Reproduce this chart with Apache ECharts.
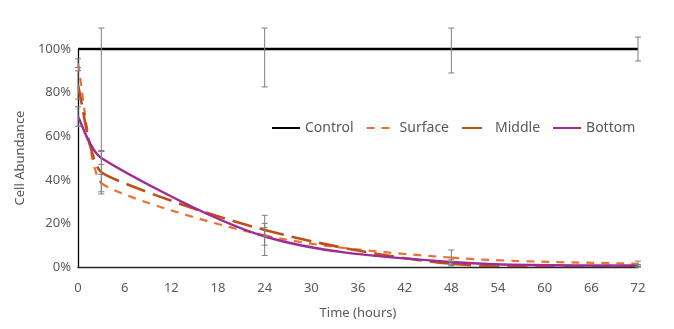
<!DOCTYPE html>
<html>
<head>
<meta charset="utf-8">
<script src="https://cdn.jsdelivr.net/npm/echarts@6/dist/echarts.min.js"></script>
<style>
  html, body { margin: 0; padding: 0; background: #fff; }
  #chart { width: 674px; height: 329px; }
</style>
</head>
<body>
<div id="chart"></div>
<script>
// Sampling times (hours)
const times = [0, 3, 24, 48, 72];
const xTicks = [0, 6, 12, 18, 24, 30, 36, 42, 48, 54, 60, 66, 72];

// Cell abundance (%) per depth
const control = [100, 100, 100, 100, 100];
const surface = [93.5, 38.5, 14.5, 4.3, 1.5];
const middle  = [83.5, 43.5, 17.0, 1.5, 0.5];
const bottom  = [69.0, 50.0, 14.0, 2.3, 0.6];

// Error bar extents (% above / below each mean)
const controlErrUp = [0, 9.6, 9.6, 9.6, 5.5];
const controlErrDn = [0, 47, 17.4, 11, 5.5];
const surfaceErrUp = [2, 4, 9.2, 3.5, 1.2];
const surfaceErrDn = [2, 4, 9.2, 3.5, 1.2];
const middleErrUp  = [6.5, 10, 3, 1, 0.5];
const middleErrDn  = [6.5, 10, 3, 1, 0.5];
const bottomErrUp  = [4.5, 3, 4, 1, 0.5];
const bottomErrDn  = [4.5, 3, 4, 1, 0.5];

const names = ['Control', 'Surface', 'Middle', 'Bottom'];
const colors = ['#000000', '#E97132', '#C04F15', '#A02B93'];
const widths = [2.4, 2.2, 2.6, 2.4];
const dashes = [null, [8, 7], [20, 8], null];
const values = [control, surface, middle, bottom];

function errRows(ys, up, dn) {
  return times.map((t, i) => [t, ys[i] - dn[i], ys[i] + up[i]]);
}

const errData = []
  .concat(errRows(control, controlErrUp, controlErrDn))
  .concat(errRows(surface, surfaceErrUp, surfaceErrDn))
  .concat(errRows(middle, middleErrUp, middleErrDn))
  .concat(errRows(bottom, bottomErrUp, bottomErrDn))
  .filter(r => r[2] - r[1] > 0);

// Spreadsheet-style smoothed curve: cubic Bezier segments whose handles follow
// the neighbour chord (1/6 of it), limited so they never pass a neighbouring point in x.
function smoothSegments(pts) {
  const n = pts.length;
  const handles = pts.map((p, i) => {
    const prev = pts[Math.max(0, i - 1)];
    const next = pts[Math.min(n - 1, i + 1)];
    let hx = (next[0] - prev[0]) / 6;
    let hy = (next[1] - prev[1]) / 6;
    const dxs = [];
    if (i > 0) dxs.push(p[0] - prev[0]);
    if (i < n - 1) dxs.push(next[0] - p[0]);
    const lim = Math.min.apply(null, dxs) / 2;
    if (Math.abs(hx) > lim && hx !== 0) {
      const k = lim / Math.abs(hx);
      hx *= k; hy *= k;
    }
    return [hx, hy];
  });
  const segs = [];
  for (let i = 0; i < n - 1; i++) {
    const a = pts[i], b = pts[i + 1];
    segs.push({
      x1: a[0], y1: a[1],
      cpx1: a[0] + handles[i][0], cpy1: a[1] + handles[i][1],
      cpx2: b[0] - handles[i + 1][0], cpy2: b[1] - handles[i + 1][1],
      x2: b[0], y2: b[1]
    });
  }
  return segs;
}

function curveSeries(idx) {
  const ys = values[idx];
  return {
    name: names[idx] + ' curve',
    type: 'custom',
    data: times.map((t, i) => [t, ys[i]]),
    encode: { x: 0, y: 1 },
    // the 100% line sits on the top edge of the plot, so it is left unclipped
    clip: idx !== 0,
    silent: true,
    z: idx === 3 ? 4 : 3,
    renderItem: function (params, api) {
      if (params.dataIndex !== 0) return null;
      const pts = times.map((t, i) => api.coord([t, ys[i]]));
      const style = { fill: 'none', stroke: colors[idx], lineWidth: widths[idx] };
      if (dashes[idx]) style.lineDash = dashes[idx];
      return {
        type: 'group',
        children: smoothSegments(pts).map(s => ({ type: 'bezierCurve', shape: s, style }))
      };
    }
  };
}

// Line series with no points: they supply the legend entries and their line styles
function legendSeries(idx) {
  return {
    name: names[idx], type: 'line', data: [], symbol: 'none',
    color: colors[idx],
    lineStyle: { width: widths[idx], color: colors[idx], type: dashes[idx] || 'solid' }
  };
}

const font = 'Noto Sans';
const chart = echarts.init(document.getElementById('chart'), null, { renderer: 'canvas' });

chart.setOption({
  animation: false,
  backgroundColor: '#ffffff',
  grid: { left: 78, right: 36, top: 49, bottom: 62, containLabel: false },
  legend: {
    data: names,
    left: 266,
    top: 116,
    itemWidth: 28,
    itemHeight: 12,
    itemGap: 12,
    itemStyle: { opacity: 0 },
    textStyle: { fontFamily: font, fontSize: 14, color: '#595959' }
  },
  xAxis: {
    type: 'value',
    min: 0, max: 72, interval: 6,
    name: 'Time (hours)',
    nameLocation: 'middle',
    nameGap: 40,
    nameTextStyle: { fontFamily: font, fontSize: 13, color: '#595959' },
    axisLine: { show: true, lineStyle: { color: '#262626', width: 1.3 } },
    axisTick: { show: false },
    splitLine: { show: false },
    axisLabel: {
      fontFamily: font, fontSize: 13, color: '#595959', margin: 15,
      formatter: v => (xTicks.indexOf(v) >= 0 ? String(v) : '')
    }
  },
  yAxis: {
    type: 'value',
    min: 0, max: 100, interval: 20,
    name: 'Cell Abundance',
    nameLocation: 'middle',
    nameGap: 48,
    nameTextStyle: { fontFamily: font, fontSize: 13, color: '#595959' },
    axisLine: { show: true, lineStyle: { color: '#000000', width: 1.3 } },
    axisTick: { show: false },
    splitLine: { show: false },
    axisLabel: {
      fontFamily: font, fontSize: 13, color: '#595959', margin: 7,
      formatter: v => v + '%'
    }
  },
  series: [
    legendSeries(0), legendSeries(1), legendSeries(2), legendSeries(3),
    curveSeries(0), curveSeries(1), curveSeries(2), curveSeries(3),
    {
      name: 'errors', type: 'custom', data: errData, clip: false, z: 5,
      silent: true,
      encode: { x: 0, y: [1, 2] },
      renderItem: function (params, api) {
        const x = api.value(0);
        const lo = api.coord([x, api.value(1)]);
        const hi = api.coord([x, api.value(2)]);
        const cw = 3;
        const style = { stroke: '#7F7F7F', lineWidth: 1 };
        return {
          type: 'group',
          children: [
            { type: 'line', shape: { x1: lo[0], y1: lo[1], x2: hi[0], y2: hi[1] }, style },
            { type: 'line', shape: { x1: lo[0] - cw, y1: lo[1], x2: lo[0] + cw, y2: lo[1] }, style },
            { type: 'line', shape: { x1: hi[0] - cw, y1: hi[1], x2: hi[0] + cw, y2: hi[1] }, style }
          ]
        };
      }
    }
  ]
});
</script>
</body>
</html>
